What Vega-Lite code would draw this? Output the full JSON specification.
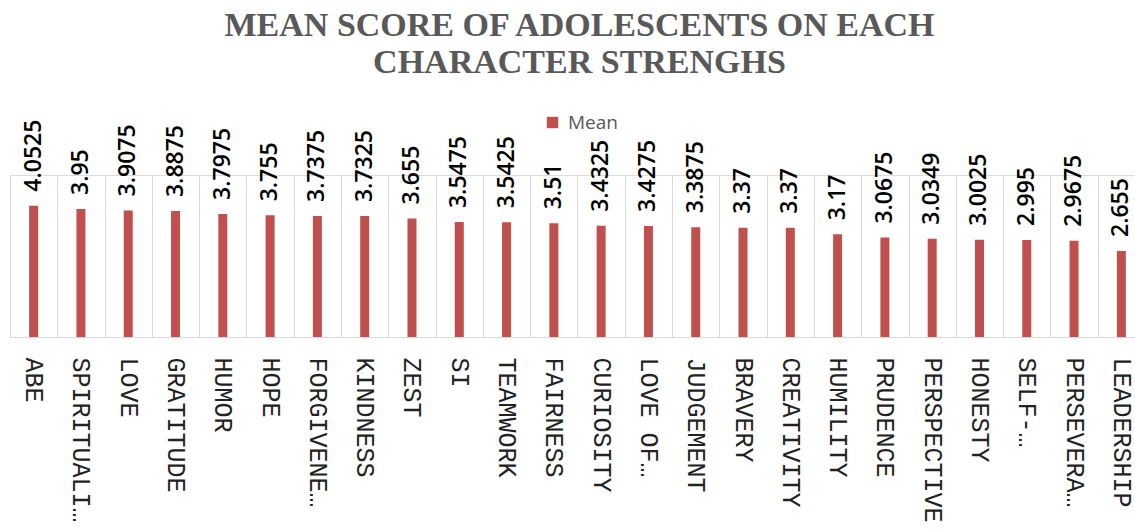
{
  "$schema": "https://vega.github.io/schema/vega-lite/v6.json",
  "width": 1125,
  "height": 162,
  "autosize": {"type": "none"},
  "padding": {"left": 10, "top": 175, "right": 0, "bottom": 192},
  "background": "white",
  "title": {
    "text": ["MEAN SCORE OF ADOLESCENTS ON EACH", "CHARACTER STRENGHS"],
    "font": "Liberation Serif",
    "fontWeight": "bold",
    "fontSize": 34,
    "lineHeight": 37,
    "color": "#595959",
    "anchor": "middle",
    "offset": 33,
    "dx": 7
  },
  "data": {
    "values": [
      {"strength": "ABE", "mean": 4.0525, "series": "Mean"},
      {"strength": "SPIRITUALI…", "mean": 3.95, "series": "Mean"},
      {"strength": "LOVE", "mean": 3.9075, "series": "Mean"},
      {"strength": "GRATITUDE", "mean": 3.8875, "series": "Mean"},
      {"strength": "HUMOR", "mean": 3.7975, "series": "Mean"},
      {"strength": "HOPE", "mean": 3.755, "series": "Mean"},
      {"strength": "FORGIVENE…", "mean": 3.7375, "series": "Mean"},
      {"strength": "KINDNESS", "mean": 3.7325, "series": "Mean"},
      {"strength": "ZEST", "mean": 3.655, "series": "Mean"},
      {"strength": "SI", "mean": 3.5475, "series": "Mean"},
      {"strength": "TEAMWORK", "mean": 3.5425, "series": "Mean"},
      {"strength": "FAIRNESS", "mean": 3.51, "series": "Mean"},
      {"strength": "CURIOSITY", "mean": 3.4325, "series": "Mean"},
      {"strength": "LOVE OF…", "mean": 3.4275, "series": "Mean"},
      {"strength": "JUDGEMENT", "mean": 3.3875, "series": "Mean"},
      {"strength": "BRAVERY", "mean": 3.37, "series": "Mean"},
      {"strength": "CREATIVITY", "mean": 3.37, "series": "Mean"},
      {"strength": "HUMILITY", "mean": 3.17, "series": "Mean"},
      {"strength": "PRUDENCE", "mean": 3.0675, "series": "Mean"},
      {"strength": "PERSPECTIVE", "mean": 3.0349, "series": "Mean"},
      {"strength": "HONESTY", "mean": 3.0025, "series": "Mean"},
      {"strength": "SELF-…", "mean": 2.995, "series": "Mean"},
      {"strength": "PERSEVERA…", "mean": 2.9675, "series": "Mean"},
      {"strength": "LEADERSHIP", "mean": 2.655, "series": "Mean"}
    ]
  },
  "encoding": {
    "x": {
      "field": "strength",
      "type": "nominal",
      "sort": null,
      "scale": {"range": [0, 1135], "paddingInner": 0, "paddingOuter": 0},
      "axis": {
        "title": null,
        "labelAngle": 90,
        "labelAlign": "left",
        "labelBaseline": "middle",
        "labelFont": "Liberation Mono",
        "labelFontSize": 25,
        "labelColor": "#222222",
        "labelPadding": 20,
        "labelLimit": 400,
        "ticks": false,
        "tickBand": "extent",
        "grid": true,
        "gridColor": "#d9d9d9",
        "gridWidth": 1,
        "domainColor": "#d9d9d9",
        "domainWidth": 1
      }
    },
    "y": {
      "field": "mean",
      "type": "quantitative",
      "scale": {"domain": [0, 5], "nice": false},
      "axis": null
    }
  },
  "layer": [
    {
      "mark": {"type": "bar", "width": 9},
      "encoding": {
        "color": {
          "field": "series",
          "type": "nominal",
          "scale": {"range": ["#C0504D"]},
          "legend": {
            "title": null,
            "orient": "none",
            "legendX": 533,
            "legendY": -62,
            "symbolType": "square",
            "symbolSize": 130,
            "symbolOpacity": 1,
            "labelFont": "Open Sans",
            "labelFontSize": 19,
            "labelColor": "#595959",
            "labelOffset": 6
          }
        }
      }
    },
    {
      "mark": {
        "type": "text",
        "angle": -90,
        "align": "left",
        "baseline": "middle",
        "dx": 14,
        "font": "Open Sans",
        "fontWeight": 600,
        "fontSize": 23,
        "color": "#000000"
      },
      "encoding": {
        "text": {"field": "mean", "type": "nominal"}
      }
    }
  ]
}
